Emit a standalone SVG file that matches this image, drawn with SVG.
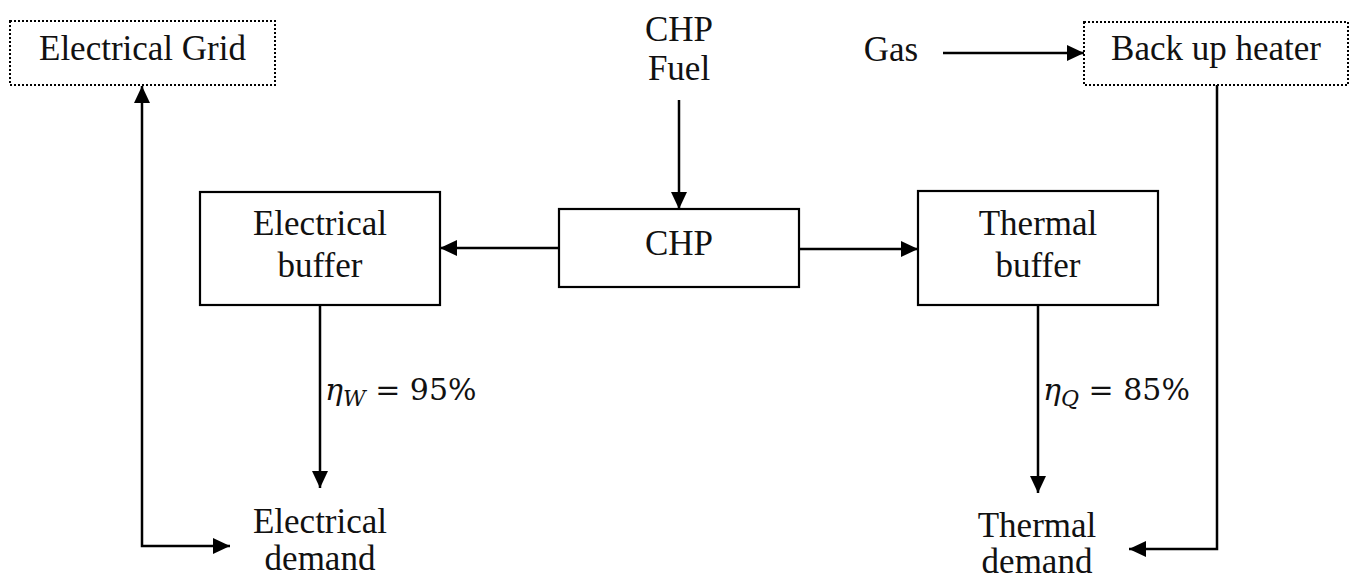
<svg xmlns="http://www.w3.org/2000/svg" width="1351" height="580" viewBox="0 0 1351 580">
<style>
  .box { fill: #fff; stroke: #000; stroke-width: 2.2; }
  .dot { fill: #fff; stroke: #000; stroke-width: 2; stroke-dasharray: 2 2; }
  .lbl { font-family: "Liberation Serif", "Times New Roman", serif; font-size: 35px; fill: #111; text-anchor: middle; }
  .eq { font-family: "DejaVu Serif", "Liberation Serif", serif; font-size: 30px; fill: #111; }
  .con { fill: none; stroke: #000; stroke-width: 2.5; }
</style>
<defs>
  <marker id="ah" markerUnits="userSpaceOnUse" markerWidth="18" markerHeight="17" refX="17" refY="8.5" orient="auto-start-reverse">
    <path d="M0,0.5 L17,8.5 L0,16.5 z" fill="#000"/>
  </marker>
</defs>
<rect width="1351" height="580" fill="#fff"/>

<g id="connectors">
  <path class="con" d="M679,100 L679,209" marker-end="url(#ah)"/>
  <path class="con" d="M943,53 L1084,53" marker-end="url(#ah)"/>
  <path class="con" d="M559,248 L440,248" marker-end="url(#ah)"/>
  <path class="con" d="M799,249 L918,249" marker-end="url(#ah)"/>
  <path class="con" d="M320,305 L320,488" marker-end="url(#ah)"/>
  <path class="con" d="M1038,305 L1038,493" marker-end="url(#ah)"/>
  <path class="con" d="M142,86 L142,546 L230,546" marker-start="url(#ah)" marker-end="url(#ah)"/>
  <path class="con" d="M1217,85 L1217,549 L1129,549" marker-end="url(#ah)"/>
</g>

<g id="electrical-grid">
  <rect class="dot" x="10" y="21" width="265" height="64"/>
  <text class="lbl" x="142.5" y="60">Electrical Grid</text>
</g>
<g id="backup-heater">
  <rect class="dot" x="1084" y="22" width="264" height="63"/>
  <text class="lbl" x="1216" y="60">Back up heater</text>
</g>
<g id="chp-fuel">
  <text class="lbl" x="679" y="41">CHP</text>
  <text class="lbl" x="679" y="80">Fuel</text>
</g>
<g id="gas">
  <text class="lbl" x="891" y="61">Gas</text>
</g>
<g id="electrical-buffer">
  <rect class="box" x="200" y="192" width="240" height="113"/>
  <text class="lbl" x="320" y="235">Electrical</text>
  <text class="lbl" x="320" y="277">buffer</text>
</g>
<g id="chp">
  <rect class="box" x="559" y="209" width="240" height="78"/>
  <text class="lbl" x="679" y="255">CHP</text>
</g>
<g id="thermal-buffer">
  <rect class="box" x="918" y="191" width="240" height="114"/>
  <text class="lbl" x="1038" y="235">Thermal</text>
  <text class="lbl" x="1038" y="277">buffer</text>
</g>
<g id="electrical-demand">
  <text class="lbl" x="320" y="533">Electrical</text>
  <text class="lbl" x="320" y="570">demand</text>
</g>
<g id="thermal-demand">
  <text class="lbl" x="1037" y="537">Thermal</text>
  <text class="lbl" x="1037" y="573">demand</text>
</g>
<g id="eta-w">
  <text class="eq" x="325" y="400"><tspan font-style="italic">η</tspan><tspan font-style="italic" font-size="22" dy="6">W</tspan><tspan dy="-6"> = 95%</tspan></text>
</g>
<g id="eta-q">
  <text class="eq" x="1043" y="400"><tspan font-style="italic">η</tspan><tspan font-style="italic" font-size="22" dy="6">Q</tspan><tspan dy="-6"> = 85%</tspan></text>
</g>
</svg>
